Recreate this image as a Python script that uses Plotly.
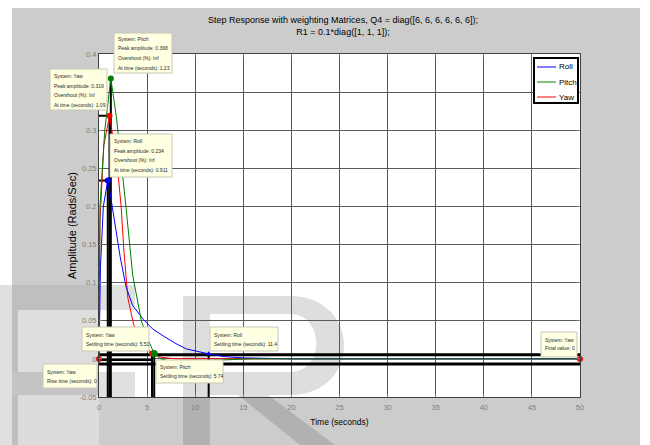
import plotly.graph_objects as go

# ---------------- data ----------------
time_roll = [0, 0.15, 0.45, 0.911, 1.15, 1.6, 2.2, 2.8, 3.5, 4.6, 5.6, 6.7, 8.0, 9.1, 10.5, 11.4, 13.0, 15.0, 20.0, 50.0]
amp_roll = [0, 0.12, 0.2, 0.234, 0.218, 0.18, 0.134, 0.095, 0.07, 0.052, 0.039, 0.03, 0.02, 0.013, 0.009, 0.0066, 0.003, 0.0013, 0.0, 0.0]

time_pitch = [0, 0.1, 0.6, 1.23, 1.8, 2.3, 2.8, 3.5, 4.4, 5.0, 5.74, 6.4, 7.5, 9.0, 11.0, 13.0, 16.0, 50.0]
amp_pitch = [0, 0.2, 0.3, 0.368, 0.318, 0.262, 0.2, 0.11, 0.05, 0.028, 0.007, 0.0, -0.003, -0.003, -0.002, -0.001, 0.0, 0.0]

time_yaw = [0, 0.1, 0.5, 1.09, 1.6, 2.0, 2.3, 2.6, 3.0, 3.6, 4.5, 5.51, 6.5, 8.0, 50.0]
amp_yaw = [0, 0.18, 0.28, 0.319, 0.28, 0.24, 0.2, 0.14, 0.08, 0.045, 0.02, 0.007, 0.002, 0.0, 0.0]

systems = ["Roll", "Pitch", "Yaw"]
colors = ["#0000ff", "#008000", "#ff0000"]
peak_time = [0.911, 1.23, 1.09]
peak_amp = [0.234, 0.368, 0.319]
settle_time = [11.4, 5.74, 5.51]
settle_amp = [0.0066, 0.0072, 0.007]
yaw_rise_time = 0
yaw_final_time = 50
yaw_final_value = 0
band_levels = [0.0055, -0.0068]
rise_level = -0.0015

x_ticks = [0, 5, 10, 15, 20, 25, 30, 35, 40, 45, 50]
y_ticks = [-0.05, 0, 0.05, 0.1, 0.15, 0.2, 0.25, 0.3, 0.35, 0.4]
y_ticklabels = ["-0.05", "0", "0.05", "0.1", "0.15", "0.2", "0.25", "0.3", "0.35", "0.4"]

# ---------------- geometry helpers (pixel -> paper) ----------------
W, H = 650, 445
L, R, T, B = 99, 580, 54, 397
def px(x):
    return (x - L) / (R - L)
def py(y):
    return (B - y) / (B - T)

fig = go.Figure()

# characteristic (data cursor) black lines
for lvl in band_levels:
    fig.add_trace(go.Scatter(x=[0, 50], y=[lvl, lvl], mode="lines", line=dict(color="black", width=3),
                             showlegend=False, hoverinfo="skip"))
fig.add_trace(go.Scatter(x=[0, 5.6], y=[rise_level, rise_level], mode="lines",
                         line=dict(color="black", width=2), showlegend=False, hoverinfo="skip"))
for i in range(3):
    fig.add_trace(go.Scatter(x=[peak_time[i], peak_time[i]], y=[peak_amp[i], -0.05], mode="lines",
                             line=dict(color="black", width=2), showlegend=False, hoverinfo="skip"))
    fig.add_trace(go.Scatter(x=[settle_time[i], settle_time[i]], y=[settle_amp[i], -0.05], mode="lines",
                             line=dict(color="black", width=2), showlegend=False, hoverinfo="skip"))
for i in (0, 2):
    fig.add_trace(go.Scatter(x=[0, peak_time[i]], y=[peak_amp[i], peak_amp[i]], mode="lines",
                             line=dict(color="black", width=2), showlegend=False, hoverinfo="skip"))

# response curves (Yaw drawn first so Pitch shows on top at zero)
series = {"Roll": (time_roll, amp_roll), "Pitch": (time_pitch, amp_pitch), "Yaw": (time_yaw, amp_yaw)}
for name in ("Yaw", "Roll", "Pitch"):
    i = systems.index(name)
    t, a = series[name]
    fig.add_trace(go.Scatter(x=t, y=a, mode="lines", name=name, showlegend=False,
                             line=dict(color=colors[i], width=1)))

# markers
for i in range(3):
    fig.add_trace(go.Scatter(x=[peak_time[i]], y=[peak_amp[i]], mode="markers",
                             marker=dict(color=colors[i], size=6), showlegend=False, hoverinfo="skip"))
fig.add_trace(go.Scatter(x=[settle_time[2]], y=[settle_amp[2]], mode="markers",
                         marker=dict(color=colors[2], size=6), showlegend=False, hoverinfo="skip"))
fig.add_trace(go.Scatter(x=[settle_time[1]], y=[settle_amp[1]], mode="markers",
                         marker=dict(color=colors[1], size=7), showlegend=False, hoverinfo="skip"))
fig.add_trace(go.Scatter(x=[settle_time[0]], y=[settle_amp[0]], mode="markers",
                         marker=dict(color=colors[0], size=5, symbol="triangle-up"), showlegend=False, hoverinfo="skip"))
fig.add_trace(go.Scatter(x=[yaw_rise_time, yaw_final_time], y=[0, yaw_final_value], mode="markers",
                         marker=dict(color=colors[2], size=6), showlegend=False, hoverinfo="skip", cliponaxis=False))

# ---------------- background / watermark shapes ----------------
def rect(x0, y0, x1, y1, color, layer="below", line=None):
    return dict(type="rect", xref="paper", yref="paper", x0=px(x0), x1=px(x1), y0=py(y1), y1=py(y0),
                fillcolor=color, line=line or dict(width=0), layer=layer)

shapes = [
    rect(0, 0, 650, 8, "white"),
    rect(0, 0, 12, 285, "white"),
    rect(640, 0, 650, 445, "white"),
    rect(0, 285, 12, 445, "#e0e0e0"),
    rect(12, 285, 99, 310, "#bfbfbf"),
    rect(12, 310, 18, 445, "#bfbfbf"),
    rect(18, 310, 99, 372, "#dedede"),
    rect(12, 372, 99, 395, "#c4c4c4"),
    rect(18, 395, 99, 445, "#dcdcdc"),
    rect(99, 285, 135, 310, "rgba(0,0,0,0.12)"),
    rect(99, 372, 135, 397, "rgba(0,0,0,0.12)"),
]
def P(x, y):
    return f"{px(x):.5f},{py(y):.5f}"
r_path = (f"M{P(183,296)} L{P(290,296)} C{P(362,296)} {P(362,395)} {P(290,395)} L{P(268,395)} "
          f"L{P(335,445)} L{P(300,445)} L{P(238,395)} L{P(210,395)} L{P(210,445)} L{P(183,445)} Z "
          f"M{P(210,314)} L{P(290,314)} C{P(325,314)} {P(325,372)} {P(290,372)} L{P(210,372)} Z")
shapes.append(dict(type="path", xref="paper", yref="paper", path=r_path, fillrule="evenodd",
                   fillcolor="rgba(0,0,0,0.13)", line=dict(width=0), layer="below"))

annotations = []

# ---------------- data tips (box + one text line each) ----------------
tip_font = dict(family="Liberation Sans, Arial", size=5, color="#2a2a2a")
tips = [
    ((114, 33, 172, 73), [39, 48.5, 58, 67.5],
     ["System: Pitch", f"Peak amplitude: {peak_amp[1]}", "Overshoot (%): Inf", f"At time (seconds): {peak_time[1]}"]),
    ((50, 69, 107, 110), [76, 85.5, 95, 104.5],
     ["System: Yaw", f"Peak amplitude: {peak_amp[2]}", "Overshoot (%): Inf", f"At time (seconds): {peak_time[2]}"]),
    ((110, 134, 172, 177), [141, 150.5, 160, 169.5],
     ["System: Roll", f"Peak amplitude: {peak_amp[0]}", "Overshoot (%): Inf", f"At time (seconds): {peak_time[0]}"]),
    ((82, 327, 149, 351), [334.5, 343.5], ["System: Yaw", f"Settling time (seconds): {settle_time[2]}"]),
    ((43, 364, 97, 388), [371.5, 381], ["System: Yaw", f"Rise time (seconds): {yaw_rise_time}"]),
    ((156, 360, 223, 383), [366.5, 376], ["System: Pitch", f"Settling time (seconds): {settle_time[1]}"]),
    ((210, 327, 278, 351), [334.5, 343.5], ["System: Roll", f"Settling time (seconds): {settle_time[0]}"]),
    ((541, 332, 577, 357), [339.5, 348], ["System: Yaw", f"Final value: {yaw_final_value}"]),
]
for (x0, y0, x1, y1), ys, lines in tips:
    shapes.append(rect(x0, y0, x1, y1, "#ffffe1", layer="above", line=dict(color="#c8c8b8", width=1)))
    for yy, txt in zip(ys, lines):
        annotations.append(dict(x=px(x0 + 2), y=py(yy), xref="paper", yref="paper",
                                xanchor="left", yanchor="middle", text=txt, showarrow=False,
                                font=tip_font))

# ---------------- legend (drawn box, lines, labels) ----------------
leg_box = (534, 58, 578, 103)
leg_rows = [67, 82, 97]
shapes.append(rect(*leg_box, "white", layer="above", line=dict(color="black", width=2)))
for i, yy in enumerate(leg_rows):
    shapes.append(dict(type="line", xref="paper", yref="paper", x0=px(537), x1=px(556), y0=py(yy), y1=py(yy),
                       line=dict(color=colors[i], width=1), layer="above"))
    annotations.append(dict(x=px(557), y=py(yy), xref="paper", yref="paper", xanchor="left", yanchor="middle",
                            text=systems[i], showarrow=False,
                            font=dict(family="Liberation Sans, Arial", size=8, color="black")))

axis_font = dict(family="Liberation Sans, Arial", size=7.5, color="#808080")
fig.update_layout(
    width=W, height=H,
    margin=dict(l=L, r=W - R, t=T, b=H - B, pad=0),
    paper_bgcolor="#cccccc", plot_bgcolor="white",
    font=dict(family="Liberation Sans, Arial", color="black"),
    title=dict(text="Step Response with weighting Matrices, Q4 = diag([6, 6, 6, 6, 6, 6]);<br>R1 = 0.1*diag([1, 1, 1]);",
               x=343 / W, xref="container", xanchor="center", y=1 - 23 / H, yref="container", yanchor="middle",
               font=dict(size=9, color="black")),
    xaxis=dict(range=[0, 50], tickvals=x_ticks, ticktext=[str(v) for v in x_ticks],
               showgrid=True, gridcolor="#5a5a5a", gridwidth=1, zeroline=False,
               showline=True, linecolor="#404040", linewidth=1, mirror="ticks",
               ticks="inside", ticklen=3, tickcolor="#808080", tickfont=axis_font, ticklabelstandoff=3,
               title=dict(text="Time (seconds)", font=dict(size=8.5, color="black"), standoff=8)),
    yaxis=dict(range=[-0.05, 0.4], tickvals=y_ticks, ticktext=y_ticklabels,
               showgrid=True, gridcolor="#5a5a5a", gridwidth=1, zeroline=False,
               showline=True, linecolor="#404040", linewidth=1, mirror="ticks",
               ticks="inside", ticklen=3, tickcolor="#808080", tickfont=axis_font,
               title=dict(text="Amplitude (Rads/Sec)", font=dict(size=11, color="black"), standoff=0)),
    showlegend=False,
    annotations=annotations,
    shapes=shapes,
)

fig.write_html("out.html", config={"displayModeBar": False},
               post_script="document.body.style.margin='0px';")
